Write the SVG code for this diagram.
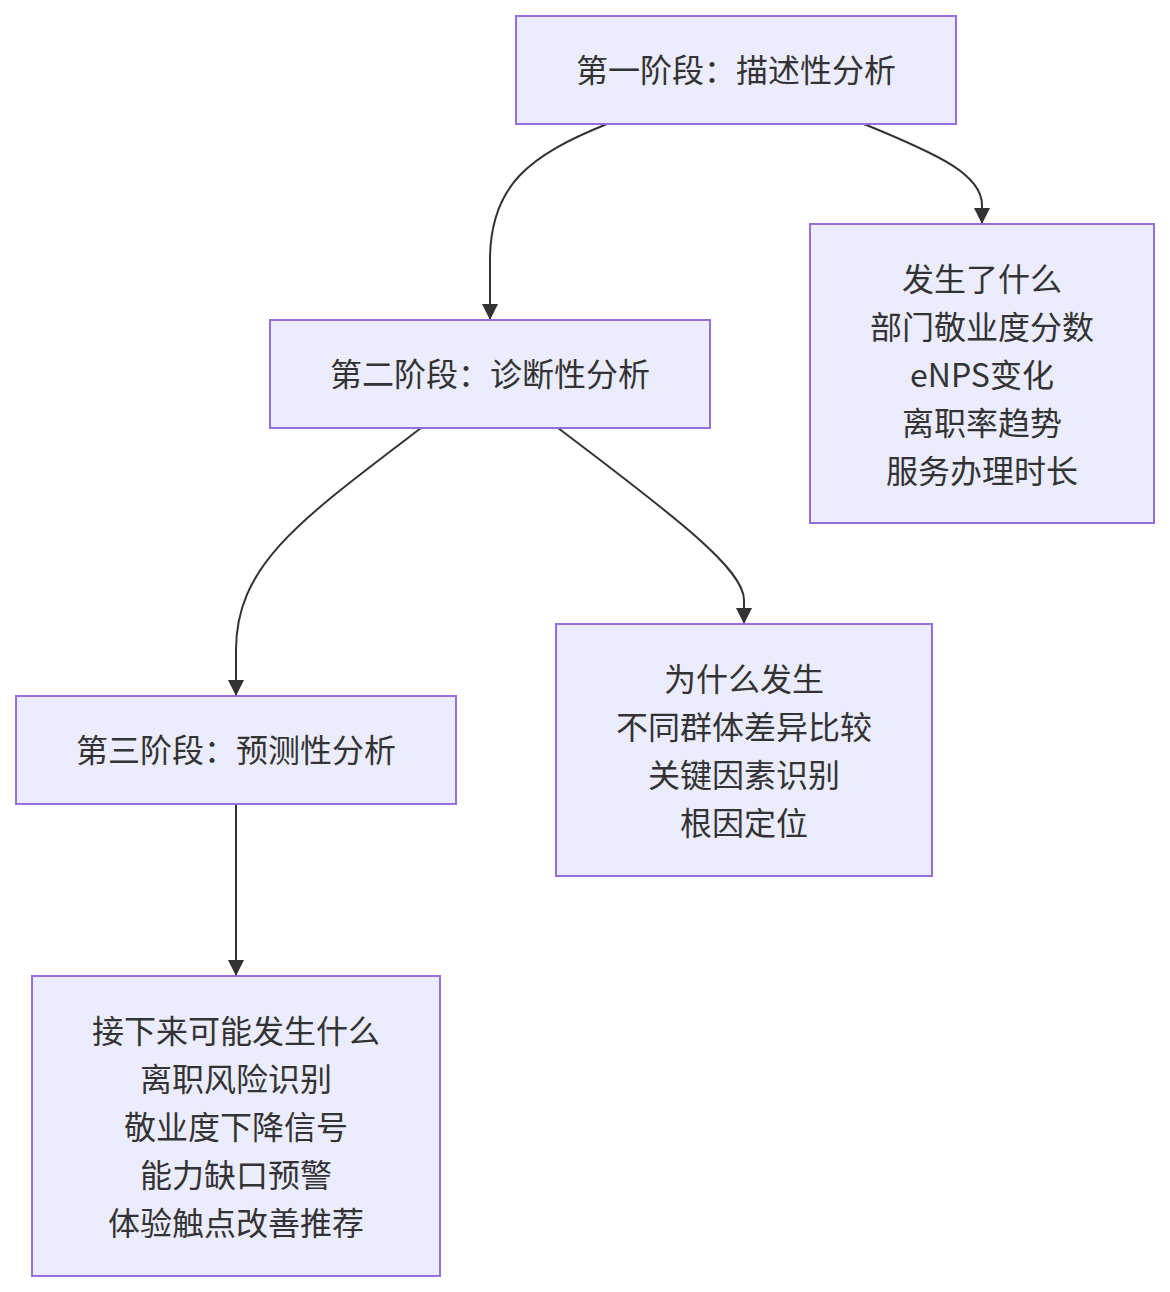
<svg xmlns="http://www.w3.org/2000/svg" width="1170" height="1292" viewBox="0 0 1170 1292">
<defs>
<style>
.node rect{fill:#ECECFF;stroke:#9370DB;stroke-width:2}
.node text{font-family:"Noto Sans CJK SC","Noto Sans",sans-serif;font-size:32px;fill:#333;text-anchor:middle;dominant-baseline:central}
.edges path{fill:none;stroke:#333;stroke-width:2}
</style>
<marker id="arrow" viewBox="0 0 10 10" refX="10" refY="5" markerWidth="8" markerHeight="8" markerUnits="strokeWidth" orient="auto">
<path d="M0,0 L10,5 L0,10 Z" fill="#333"/>
</marker>
</defs>
<rect width="1170" height="1292" fill="#fff"/>
<g class="edges">
<path d="M607,124 C530,155 490,185 490,260 L490,320" marker-end="url(#arrow)"/>
<path d="M864,124 C940,155 982,175 982,205 L982,224" marker-end="url(#arrow)"/>
<path d="M421,428 C300,520 236,565 236,650 L236,696" marker-end="url(#arrow)"/>
<path d="M558,428 C680,520 744,570 744,600 L744,624" marker-end="url(#arrow)"/>
<path d="M236,804 L236,976" marker-end="url(#arrow)"/>
</g>
<g id="nodeA" class="node"><rect x="516" y="16" width="440" height="108"/><text x="736" y="68">第一阶段：描述性分析</text></g>
<g id="nodeB" class="node"><rect x="810" y="224" width="344" height="299"/>
<text x="982" y="277">发生了什么</text><text x="982" y="325">部门敬业度分数</text><text x="982" y="373">eNPS变化</text><text x="982" y="421">离职率趋势</text><text x="982" y="469">服务办理时长</text></g>
<g id="nodeC" class="node"><rect x="270" y="320" width="440" height="108"/><text x="490" y="372">第二阶段：诊断性分析</text></g>
<g id="nodeD" class="node"><rect x="556" y="624" width="376" height="252"/>
<text x="744" y="677">为什么发生</text><text x="744" y="725">不同群体差异比较</text><text x="744" y="773">关键因素识别</text><text x="744" y="821">根因定位</text></g>
<g id="nodeE" class="node"><rect x="16" y="696" width="440" height="108"/><text x="236" y="748">第三阶段：预测性分析</text></g>
<g id="nodeF" class="node"><rect x="32" y="976" width="408" height="300"/>
<text x="236" y="1029">接下来可能发生什么</text><text x="236" y="1077">离职风险识别</text><text x="236" y="1125">敬业度下降信号</text><text x="236" y="1173">能力缺口预警</text><text x="236" y="1221">体验触点改善推荐</text></g>
</svg>
